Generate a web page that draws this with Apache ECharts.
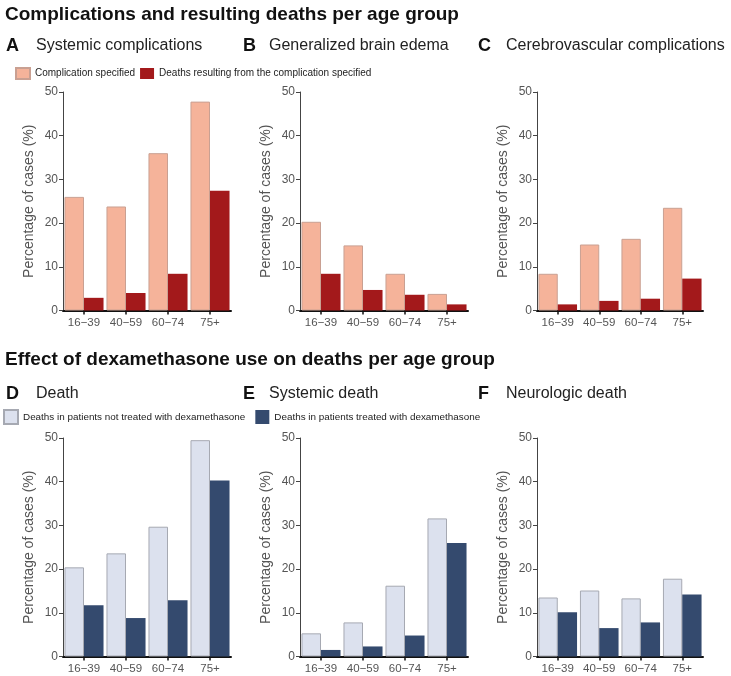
<!DOCTYPE html>
<html><head><meta charset="utf-8">
<script src="https://cdn.jsdelivr.net/npm/echarts@6/dist/echarts.min.js"></script>
<style>html,body{margin:0;padding:0;background:#fff}#c{width:731px;height:676px}</style>
</head><body><div id="c"></div>
<script>
var ageGroups = ['16\u221239', '40\u221259', '60\u221274', '75+'];
var yTicks = [0, 10, 20, 30, 40, 50];

var systemicComp      = [26.0, 23.8, 36.0, 47.8];
var systemicCompDeath = [2.9, 4.0, 8.4, 27.4];
var edemaComp         = [20.3, 14.9, 8.4, 3.8];
var edemaCompDeath    = [8.4, 4.7, 3.6, 1.4];
var cerebroComp       = [8.4, 15.1, 16.4, 23.5];
var cerebroCompDeath  = [1.4, 2.2, 2.7, 7.3];

var deathNoDex        = [20.4, 23.6, 29.7, 49.5];
var deathDex          = [11.7, 8.8, 12.9, 40.3];
var sysDeathNoDex     = [5.3, 7.8, 16.2, 31.6];
var sysDeathDex       = [1.5, 2.3, 4.8, 26.0];
var neuroDeathNoDex   = [13.5, 15.1, 13.3, 17.8];
var neuroDeathDex     = [10.1, 6.5, 7.8, 14.2];

var nameComp = 'Complication specified';
var nameCompDeath = 'Deaths resulting from the complication specified';
var nameNoDex = 'Deaths in patients not treated with dexamethasone';
var nameDex = 'Deaths in patients treated with dexamethasone';

var FONT = '"Liberation Sans", Arial, Helvetica, sans-serif';
var cLight1 = '#F5B39A', cLight1B = '#C9A092', cDark1 = '#A3191B';
var cLight2 = '#DCE1EE', cLight2B = '#A6A9B2', cDark2 = '#344A6E';

var lefts = [63, 300, 537];
var widths = [168, 168, 166];
var tops = [92, 438];
var H = 218.5;

var grids = [], xAxes = [], yAxes = [], series = [];
var panels = [
  [systemicComp, systemicCompDeath, nameComp, nameCompDeath, cLight1, cLight1B, cDark1],
  [edemaComp, edemaCompDeath, nameComp, nameCompDeath, cLight1, cLight1B, cDark1],
  [cerebroComp, cerebroCompDeath, nameComp, nameCompDeath, cLight1, cLight1B, cDark1],
  [deathNoDex, deathDex, nameNoDex, nameDex, cLight2, cLight2B, cDark2],
  [sysDeathNoDex, sysDeathDex, nameNoDex, nameDex, cLight2, cLight2B, cDark2],
  [neuroDeathNoDex, neuroDeathDex, nameNoDex, nameDex, cLight2, cLight2B, cDark2]
];
panels.forEach(function (p, i) {
  var col = i % 3, row = Math.floor(i / 3);
  grids.push({left: lefts[col], width: widths[col], top: tops[row], height: H, containLabel: false});
  xAxes.push({
    gridIndex: i, type: 'category', data: ageGroups,
    axisLine: {show: true, lineStyle: {color: '#111', width: 2}},
    axisTick: {show: true, alignWithLabel: true, length: 4, lineStyle: {color: '#111', width: 1.5}},
    axisLabel: {fontFamily: FONT, fontSize: 11.5, color: '#555', margin: 6, interval: 0},
    splitLine: {show: false}
  });
  yAxes.push({
    gridIndex: i, type: 'value', min: yTicks[0], max: yTicks[yTicks.length - 1], interval: 10,
    name: 'Percentage of cases (%)', nameLocation: 'middle', nameGap: 27,
    nameTextStyle: {fontFamily: FONT, fontSize: 14, color: '#555'},
    axisLine: {show: true, lineStyle: {color: '#444', width: 1}},
    axisTick: {show: true, length: 4, lineStyle: {color: '#444'}},
    axisLabel: {fontFamily: FONT, fontSize: 12, color: '#555', margin: 5},
    splitLine: {show: false}
  });
  series.push({
    type: 'bar', name: p[2], xAxisIndex: i, yAxisIndex: i, data: p[0],
    barGap: '0%', barCategoryGap: '7%',
    itemStyle: {color: p[4], borderColor: p[5], borderWidth: 1}
  });
  series.push({
    type: 'bar', name: p[3], xAxisIndex: i, yAxisIndex: i, data: p[1],
    barGap: '0%', barCategoryGap: '7%',
    itemStyle: {color: p[6]}
  });
});

var titles = [
  {text: 'Complications and resulting deaths per age group', left: 5, top: 5, padding: 0,
   textStyle: {fontFamily: FONT, fontSize: 19, fontWeight: 'bold', color: '#111'}},
  {text: 'Effect of dexamethasone use on deaths per age group', left: 5, top: 350, padding: 0,
   textStyle: {fontFamily: FONT, fontSize: 19, fontWeight: 'bold', color: '#111'}}
];
var subs = [
  ['A', 'Systemic complications', 6, 36, 37],
  ['B', 'Generalized brain edema', 243, 269, 37],
  ['C', 'Cerebrovascular complications', 478, 506, 37],
  ['D', 'Death', 6, 36, 385],
  ['E', 'Systemic death', 243, 269, 385],
  ['F', 'Neurologic death', 478, 506, 385]
];
subs.forEach(function (s) {
  titles.push({text: s[0], left: s[2], top: s[4], padding: 0,
    textStyle: {fontFamily: FONT, fontSize: 18, fontWeight: 'bold', color: '#111'}});
  titles.push({text: s[1], left: s[3], top: s[4] + 1, padding: 0,
    textStyle: {fontFamily: FONT, fontSize: 16, fontWeight: 'normal', color: '#222'}});
});

var chart = echarts.init(document.getElementById('c'), null, {renderer: 'canvas'});
chart.setOption({
  animation: false,
  backgroundColor: '#fff',
  title: titles,
  legend: [
    {data: [nameComp, nameCompDeath], left: 15, top: 67, padding: 0, orient: 'horizontal',
     icon: 'rect', itemWidth: 14, itemHeight: 11, itemGap: 5,
     textStyle: {fontFamily: FONT, fontSize: 10, color: '#222'},
     selectedMode: false},
    {data: [nameNoDex, nameDex], left: 3, top: 409, padding: 0, orient: 'horizontal',
     icon: 'rect', itemWidth: 14, itemHeight: 14, itemGap: 10,
     textStyle: {fontFamily: FONT, fontSize: 9.9, color: '#222'},
     selectedMode: false}
  ],
  grid: grids, xAxis: xAxes, yAxis: yAxes, series: series
});
</script></body></html>
